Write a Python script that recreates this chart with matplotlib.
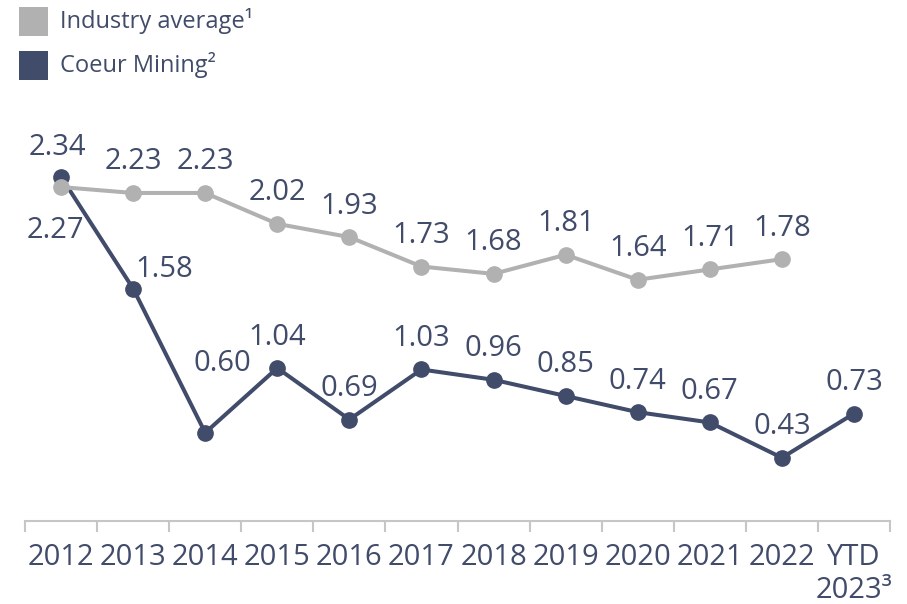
import matplotlib
matplotlib.use("Agg")
import matplotlib.pyplot as plt
from matplotlib.patches import Rectangle

plt.rcParams['font.family'] = ['Open Sans', 'DejaVu Sans']

categories = ["2012", "2013", "2014", "2015", "2016", "2017", "2018", "2019",
              "2020", "2021", "2022", "YTD\n2023\u00b3"]
industry = [2.27, 2.23, 2.23, 2.02, 1.93, 1.73, 1.68, 1.81, 1.64, 1.71, 1.78]
coeur = [2.34, 1.58, 0.60, 1.04, 0.69, 1.03, 0.96, 0.85, 0.74, 0.67, 0.43, 0.73]

NAVY = "#414B6A"
GRAY = "#B1B1B1"
AXIS = "#C6C6C6"

# label offsets (pixels) of label centre relative to point
coeur_off = [(-4, 32), (31, 22), (17, 72)] + [(0, 34)] * 9
industry_off = [(-6, -40)] + [(0, 34)] * 10

fig = plt.figure(figsize=(9.07, 6.04), dpi=100)
ax = fig.add_axes([25 / 907, 1 - 521 / 604, 865 / 907, 421 / 604])

x_c = list(range(len(coeur)))
x_i = list(range(len(industry)))
ax.plot(x_c, coeur, color=NAVY, lw=2.9, marker='o', ms=11, zorder=3,
        solid_capstyle='round', clip_on=False)
ax.plot(x_i, industry, color=GRAY, lw=2.9, marker='o', ms=11, zorder=4,
        solid_capstyle='round', clip_on=False)

FS = 21
cap = 10.5  # half cap height in px
for xi, v, (dx, dy) in zip(x_c, coeur, coeur_off):
    ax.annotate(f"{v:.2f}", (xi, v), xytext=(dx, dy - cap), textcoords='offset pixels',
                ha='center', va='baseline', fontsize=FS, color=NAVY, zorder=5)
for xi, v, (dx, dy) in zip(x_i, industry, industry_off):
    ax.annotate(f"{v:.2f}", (xi, v), xytext=(dx, dy - cap), textcoords='offset pixels',
                ha='center', va='baseline', fontsize=FS, color=NAVY, zorder=5)

ax.set_xlim(-0.5, len(categories) - 0.5)
ax.set_ylim(0, 421 / 147.1)

for s in ['top', 'right', 'left']:
    ax.spines[s].set_visible(False)
ax.spines['bottom'].set_color(AXIS)
ax.spines['bottom'].set_linewidth(1.5)
ax.set_yticks([])

ax.set_xticks(range(len(categories)))
ax.set_xticklabels(categories, fontsize=FS, color=NAVY, linespacing=1.15)
ax.tick_params(axis='x', which='major', length=0, pad=16)
ax.set_xticks([i - 0.5 for i in range(len(categories) + 1)], minor=True)
ax.tick_params(axis='x', which='minor', length=8, width=1.5, color=AXIS)

# legend
labels = ["Industry average\u00b9", "Coeur Mining\u00b2"]
colors = [GRAY, NAVY]
for i, (lab, c) in enumerate(zip(labels, colors)):
    y0 = 7 + i * 44
    fig.patches.append(Rectangle((19 / 907, 1 - (y0 + 29) / 604), 29 / 907, 29 / 604,
                                 transform=fig.transFigure, color=c, lw=0))
    fig.text(60 / 907, 1 - (y0 + 14.5) / 604, lab, fontsize=17, color=NAVY,
             ha='left', va='center')

fig.savefig("out.png", dpi=100)
